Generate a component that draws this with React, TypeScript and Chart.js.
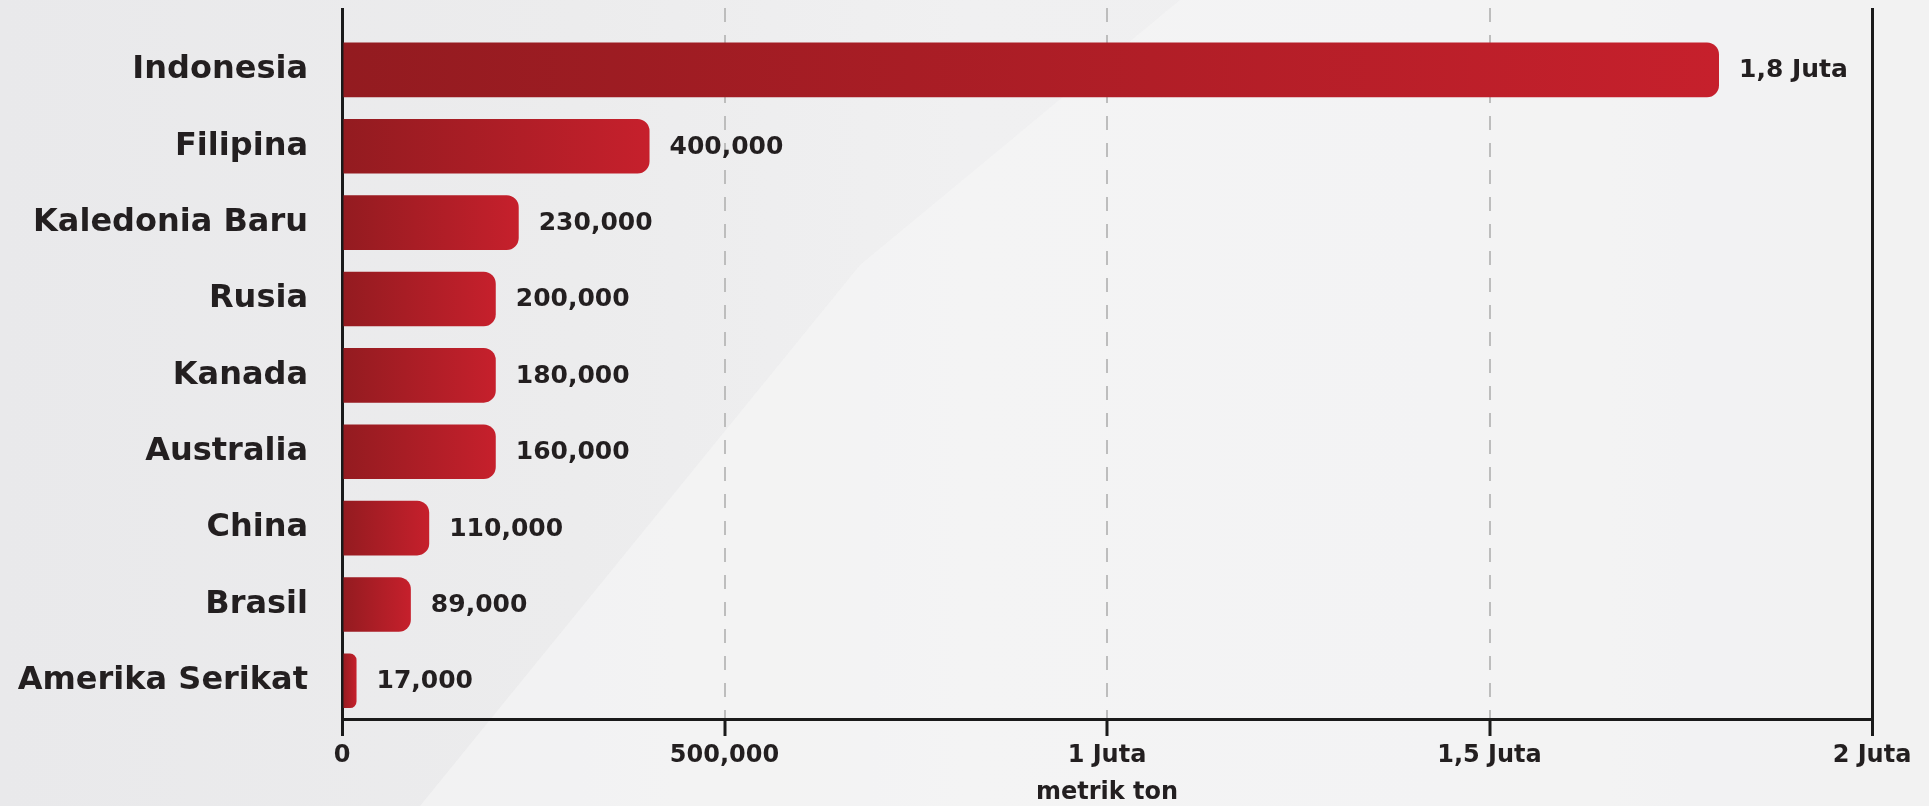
import React, { useEffect, useRef } from 'react';
import { Chart, registerables } from 'chart.js';

Chart.register(...registerables);

// ---- data ----
const countries = ['Indonesia', 'Filipina', 'Kaledonia Baru', 'Rusia', 'Kanada', 'Australia', 'China', 'Brasil', 'Amerika Serikat'];
// bar lengths as drawn in the picture (metrik ton)
const barValues = [1800000, 402000, 231000, 201000, 201000, 201000, 114000, 90000, 19000];
// value labels as printed next to the bars
const valueLabels = ['1,8 Juta', '400,000', '230,000', '200,000', '180,000', '160,000', '110,000', '89,000', '17,000'];
const xTickValues = [0, 500000, 1000000, 1500000, 2000000];
const xTickLabels = ['0', '500,000', '1 Juta', '1,5 Juta', '2 Juta'];
const xAxisTitle = 'metrik ton';

const FONT = "'DejaVu Sans', Inter, sans-serif";
const TEXT = '#231f20';
const AXIS = '#1a1a1a';

const valueLabelPlugin = {
  id: 'valueLabels',
  afterDatasetsDraw(chart: any) {
    const meta = chart.getDatasetMeta(0);
    const c = chart.ctx;
    c.save();
    c.font = `700 25px ${FONT}`;
    c.fillStyle = TEXT;
    c.textAlign = 'left';
    c.textBaseline = 'middle';
    meta.data.forEach((bar: any, i: number) => {
      c.fillText(valueLabels[i], bar.x + 20, bar.y + 1);
    });
    c.restore();
  },
};

export default function App() {
  const ref = useRef<HTMLCanvasElement | null>(null);

  useEffect(() => {
    if (!ref.current) return;
    const isEdge = (v: any) => v === xTickValues[0] || v === xTickValues[xTickValues.length - 1];
    const chart = new Chart(ref.current, {
      type: 'bar',
      data: {
        datasets: [
          {
            data: barValues.map((v, i) => ({ x: v, y: i })),
            backgroundColor: (ctx: any) => {
              const ch = ctx.chart;
              if (!ch.chartArea || ctx.type !== 'data') return '#b01e27';
              const xs = ch.scales.x;
              const x0 = xs.getPixelForValue(0);
              const x1 = xs.getPixelForValue(barValues[ctx.dataIndex]);
              const g = ch.ctx.createLinearGradient(x0, 0, Math.max(x1, x0 + 1), 0);
              g.addColorStop(0, '#931b20');
              g.addColorStop(1, '#c6202c');
              return g;
            },
            borderRadius: 12,
            borderSkipped: 'start',
            barPercentage: 0.715,
            categoryPercentage: 1,
          } as any,
        ],
      },
      options: {
        indexAxis: 'y',
        animation: false,
        responsive: false,
        devicePixelRatio: 1,
        layout: { padding: { top: 8, right: 57, bottom: 0, left: 0 } },
        plugins: { legend: { display: false }, tooltip: { enabled: false } },
        scales: {
          y: {
            type: 'linear',
            reverse: true,
            offset: false,
            bounds: 'data',
            min: -0.81,
            max: 8.5,
            afterBuildTicks: (scale: any) => {
              scale.ticks = countries.map((_, i) => ({ value: i }));
            },
            afterFit: (scale: any) => {
              scale.width = 342;
              scale.paddingTop = 0;
              scale.paddingBottom = 0;
            },
            ticks: {
              stepSize: 1,
              callback: (v: any) => countries[v] ?? '',
              font: { family: FONT, size: 32, weight: 'bold' },
              color: TEXT,
              padding: 34,
              autoSkip: false,
            },
            grid: { display: false, drawTicks: false, offset: false },
            border: { display: false },
          },
          x: {
            type: 'linear',
            min: 0,
            max: 2000000,
            afterBuildTicks: (scale: any) => {
              scale.ticks = xTickValues.map((v) => ({ value: v }));
            },
            afterFit: (scale: any) => {
              scale.height = 87;
              scale.paddingLeft = 0;
              scale.paddingRight = 0;
            },
            ticks: {
              callback: (_v: any, i: number) => xTickLabels[i],
              font: { family: FONT, size: 24, weight: 'bold' },
              color: TEXT,
              padding: 5,
              autoSkip: false,
              maxRotation: 0,
            },
            grid: {
              color: (ctx: any) => (ctx.tick && isEdge(ctx.tick.value) ? AXIS : '#bdbdbd'),
              lineWidth: (ctx: any) => (ctx.tick && isEdge(ctx.tick.value) ? 3 : 2),
              tickColor: AXIS,
              tickWidth: 3,
              tickLength: 17,
              tickBorderDash: [],
            },
            border: {
              display: true,
              color: AXIS,
              width: 3,
              dash: (ctx: any) => (ctx.tick && !isEdge(ctx.tick.value) ? [14, 13] : []),
            },
            title: {
              display: true,
              text: xAxisTitle,
              font: { family: FONT, size: 24, weight: 'bold', lineHeight: 1.1 },
              color: TEXT,
              padding: { top: 0, bottom: 0 },
            },
          },
        },
      },
      plugins: [valueLabelPlugin],
    } as any);
    return () => chart.destroy();
  }, []);

  return (
    <div
      style={{
        position: 'fixed',
        left: 0,
        top: 0,
        width: 1929,
        height: 806,
        overflow: 'hidden',
        background:
          'linear-gradient(90deg, #e9e9eb 0%, #ececed 30%, #f0f0f1 50%, #efeff0 75%, #e9e9eb 100%)',
      }}
    >
      <div
        style={{
          position: 'absolute',
          inset: 0,
          background: '#f5f5f5',
          opacity: 0.7,
          clipPath: 'polygon(860px 265px, 1180px 0px, 1929px 0px, 1929px 806px, 420px 806px)',
        }}
      />
      <canvas ref={ref} width={1929} height={806} style={{ position: 'absolute', left: 0, top: 0, width: 1929, height: 806 }} />
    </div>
  );
}
